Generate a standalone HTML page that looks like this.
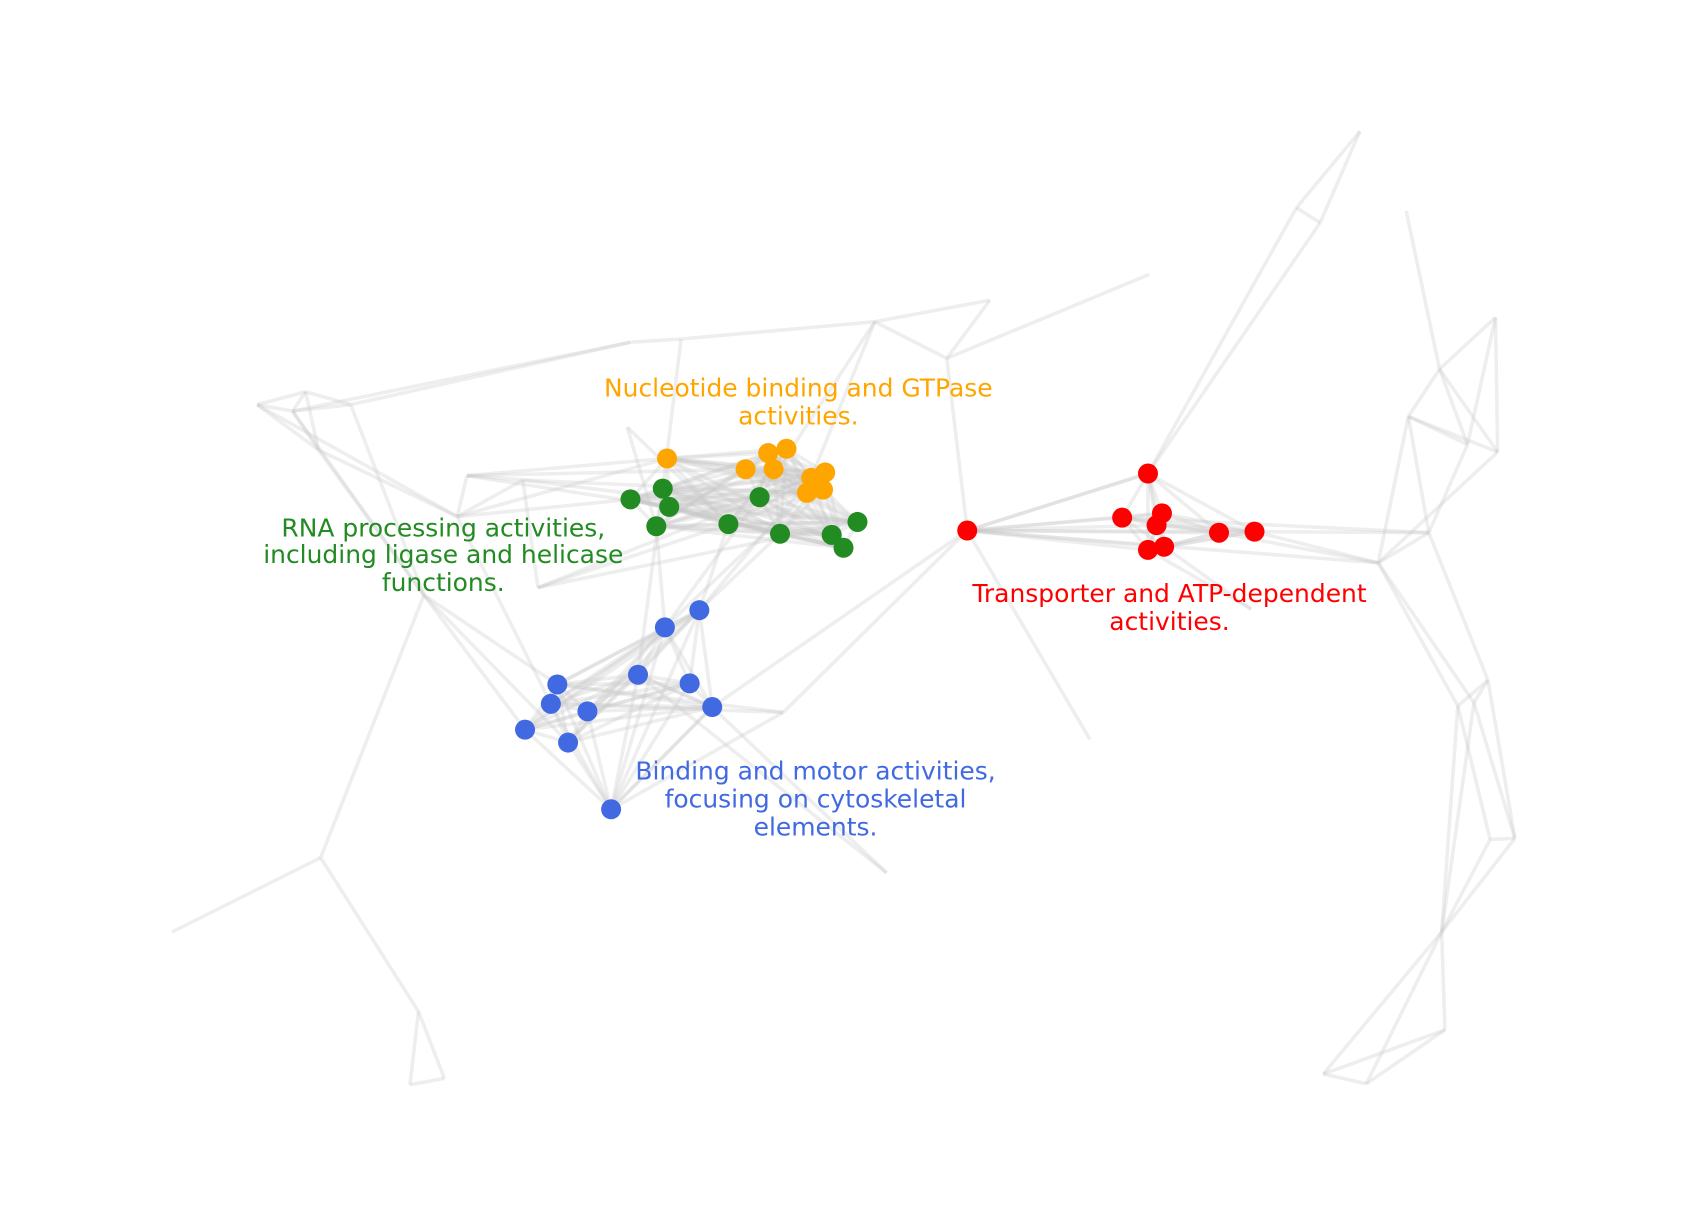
<!DOCTYPE html>
<html><head><meta charset="utf-8"><style>
html,body{margin:0;padding:0;background:#fff;}
svg{display:block;}
text{font-family:"DejaVu Sans","Liberation Sans",sans-serif;font-size:23.2px;text-anchor:middle;dominant-baseline:central;}
</style></head><body>
<svg id="net" width="1687" height="1215" viewBox="0 0 1568 1129" preserveAspectRatio="none" xmlns="http://www.w3.org/2000/svg">
<g id="edges"></g>
<g id="nodes"></g>
<g>
<text fill="#FFA500"><tspan x="742" y="360">Nucleotide binding and GTPase</tspan><tspan x="742" y="386">activities.</tspan></text>
<text fill="#228B22"><tspan x="412" y="490">RNA processing activities,</tspan><tspan x="412" y="515">including ligase and helicase</tspan><tspan x="412" y="541">functions.</tspan></text>
<text fill="#FF0000"><tspan x="1087" y="551">Transporter and ATP-dependent</tspan><tspan x="1087" y="577">activities.</tspan></text>
<text fill="#4169E1"><tspan x="758" y="716">Binding and motor activities,</tspan><tspan x="758" y="742">focusing on cytoskeletal</tspan><tspan x="758" y="768">elements.</tspan></text>
</g>
</svg>
<script>
const orange=[[620,426],[714,421],[731,417],[693,436],[719,436],[754,444],[767,439],[750,458],[765,455]];
const green=[[586,464],[616,454],[622,471],[610,489],[677,487],[706,462],[725,496],[773,497],[784,509],[797,485]];
const red=[[899,493],[1067,440],[1043,481],[1080,477],[1075,488],[1067,511],[1082,508],[1133,495],[1166,494]];
const blue=[[650,567],[618,583],[518,636],[593,627],[641,635],[512,654],[546,661],[662,657],[488,678],[528,690],[568,752]];
const gray=[[239,376],[284,364],[326,376],[272,382],[296,418],[434,442],[425,480],[394,553],[298,797],[160,866],
[389,940],[381,1008],[413,1002],[586,318],[633,315],[813,299],[920,279],[880,333],[1068,255],[583,397],
[486,446],[500,546],[728,662],[1013,687],[824,811],[1264,122],[1205,193],[1227,207],[1307,196],[1338,343],
[1309,387],[1390,295],[1392,420],[1364,413],[1328,495],[1281,523],[1383,632],[1355,656],[1370,653],[1385,780],
[1408,779],[1340,866],[1343,957],[1230,998],[1270,1007],[1163,566]];
const grayEdges=[[0,1],[0,3],[1,2],[1,3],[2,3],[0,4],[1,4],[3,4],[0,6],[3,7],[2,7],[4,7],[2,13],[13,14],[14,15],[15,16],[16,17],[15,17],[17,18],
[7,8],[8,9],[8,10],[10,11],[10,12],[11,12],[5,6],[6,20],[5,20],[21,20],[4,6],
[25,26],[25,27],[26,27],[28,29],[29,30],[29,31],[29,32],[31,32],[30,32],[30,33],[29,33],[30,34],[33,34],[32,35],[34,35],[31,33],
[34,36],[35,37],[35,38],[36,37],[36,38],[37,39],[36,40],[38,40],[39,40],[37,41],[38,41],[39,41],[40,41],[41,42],[41,43],[41,44],[42,44],[43,44],[42,43],[30,35]];
const crossEdges=[["g",13,"g",3],["g",14,"n",1],["g",15,"n",5],["g",17,"r",0],["g",15,"o",5],["g",5,"o",0],["g",5,"o",3],["g",20,"o",7],["g",20,"n",9],
["g",7,"b",2],["g",7,"b",8],["g",7,"b",9],["g",21,"n",4],["g",21,"o",5],["g",21,"n",9],["g",22,"b",2],["g",22,"b",5],["g",22,"r",0],["r",0,"g",23],["r",0,"b",7],
["g",24,"b",7],["g",24,"b",3],["g",19,"n",4],["g",19,"n",3],["g",6,"n",0],["g",6,"o",0],["g",5,"n",2],
["r",1,"g",26],["r",1,"g",27],["r",1,"r",0],["r",8,"g",35],["r",7,"g",35],["r",8,"g",34],["r",2,"g",34],["r",5,"g",45],["r",6,"g",45],["r",0,"g",35],
["b",0,"n",4],["b",0,"n",6],["b",1,"n",5],["b",1,"o",7],["b",0,"o",5],["b",1,"n",3],["b",10,"b",7],["b",10,"g",22],["b",3,"b",7],["n",1,"b",3],["g",6,"b",5]];
const sets={o:orange,n:green,r:red,b:blue,g:gray};
const ns="http://www.w3.org/2000/svg";
const eg=document.getElementById('edges');
function line(a,b){
  const l=document.createElementNS(ns,'line');
  l.setAttribute('x1',a[0]);l.setAttribute('y1',a[1]);l.setAttribute('x2',b[0]);l.setAttribute('y2',b[1]);
  l.setAttribute('stroke','#c8c8c8');l.setAttribute('stroke-opacity','0.3');l.setAttribute('stroke-width','3.3');
  
  
  eg.appendChild(l);
}
[orange,green,red,blue].forEach(s=>{for(let i=0;i<s.length;i++)for(let j=i+1;j<s.length;j++)line(s[i],s[j]);});
orange.forEach((a,i)=>green.forEach((b,j)=>{if((i+j)%2===0)line(a,b);}));
grayEdges.forEach(e=>line(gray[e[0]],gray[e[1]]));
crossEdges.forEach(e=>line(sets[e[0]][e[1]],sets[e[2]][e[3]]));
const ngp=document.getElementById('nodes');
function dots(arr,color,name){
  arr.forEach(p=>{
    const c=document.createElementNS(ns,'circle');
    c.setAttribute('cx',p[0]);c.setAttribute('cy',p[1]);c.setAttribute('r','9.3');c.setAttribute('fill',color);
    
    
    ngp.appendChild(c);
  });
}
dots(green,'#228B22','node-rna');
dots(orange,'#FFA500','node-nucleotide');
dots(red,'#FF0000','node-transporter');
dots(blue,'#4169E1','node-binding-motor');
</script>
</body></html>
